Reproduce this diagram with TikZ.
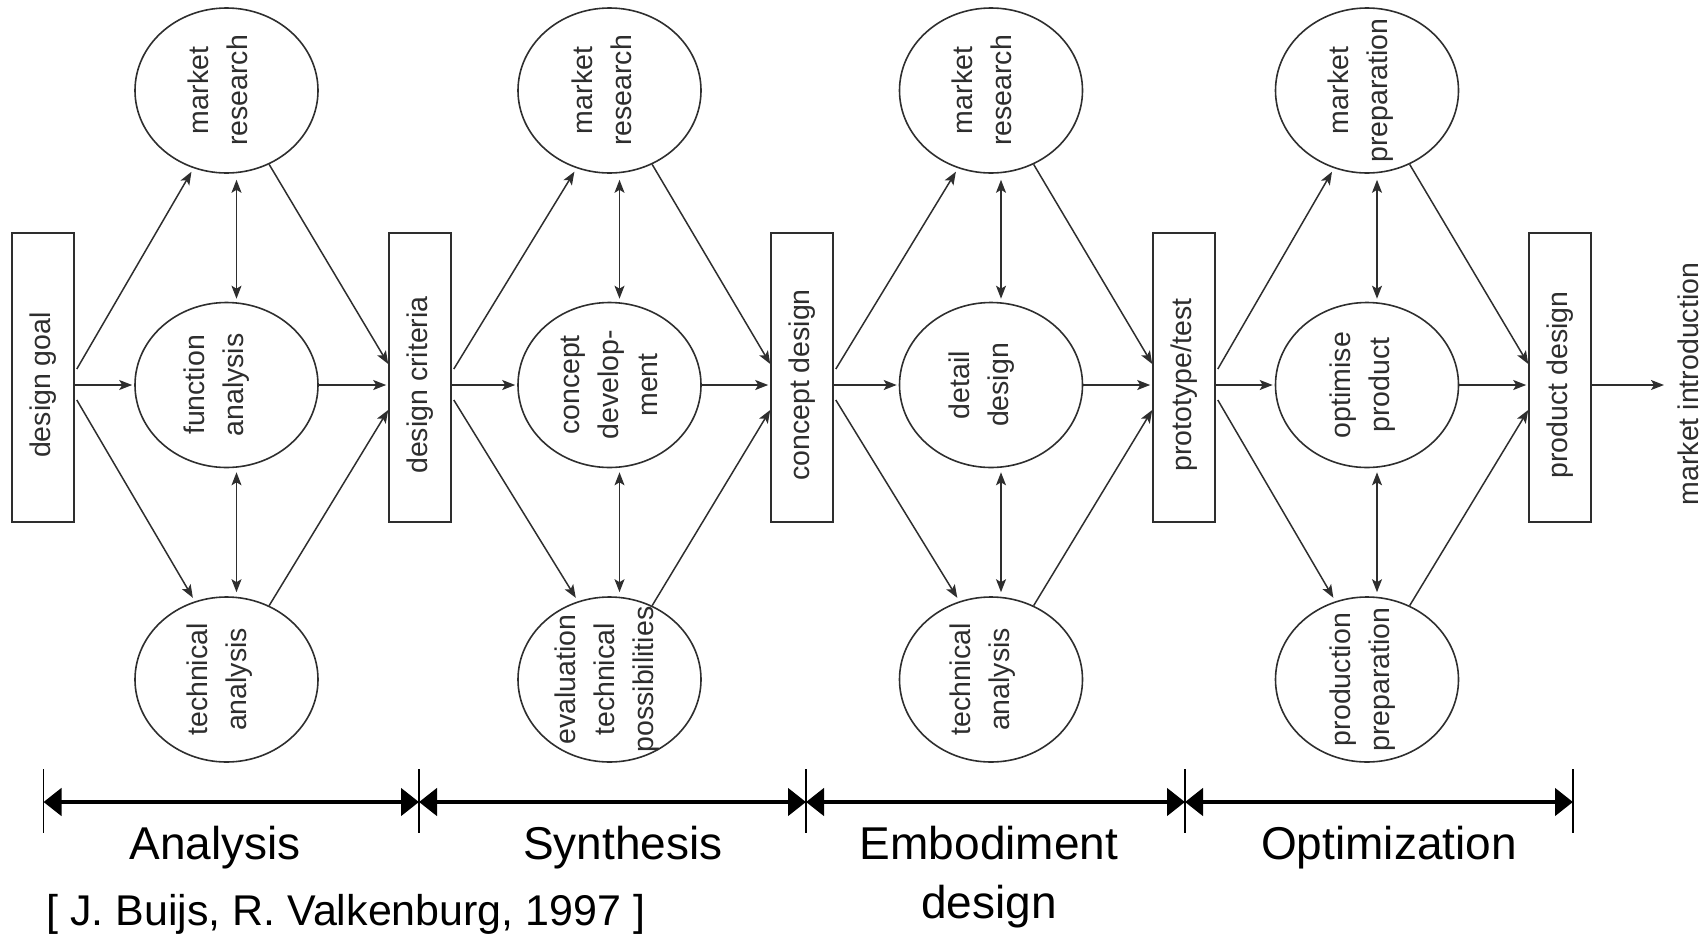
\documentclass[tikz,border=0pt]{standalone}
\usepackage{fontspec}
\setmainfont{Liberation Sans}
\usetikzlibrary{shapes.geometric,arrows.meta,calc}
\definecolor{ink}{HTML}{2E2E2E}
\begin{document}
\begin{tikzpicture}[x=1pt,y=-1pt,
  ell/.style={draw=ink,ellipse,line width=1.6pt,minimum width=183pt,minimum height=165pt,inner sep=0pt},
  stage/.style={draw=ink,rectangle,line width=1.6pt,minimum width=62pt,minimum height=289pt,inner sep=0pt},
  rtxt/.style={rotate=90,align=center,font=\fontsize{28.5}{39}\selectfont,text=ink,inner sep=0pt},
  arr/.style={draw=ink,line width=1.5pt,-{Stealth[length=13pt,width=10pt,inset=3pt]}},
  dbl/.style={draw=ink,line width=1.5pt,{Stealth[length=13pt,width=10pt,inset=3pt]}-{Stealth[length=13pt,width=10pt,inset=3pt]}},
  tl/.style={line width=4.5pt,{Triangle[length=18pt,width=27pt]}-{Triangle[length=18pt,width=27pt]}},
  tickline/.style={line width=1.5pt},
  phase/.style={font=\fontsize{46}{56}\selectfont,anchor=base,inner sep=0pt},
  cite/.style={font=\fontsize{43}{50}\selectfont,anchor=base west,inner sep=0pt},
]
\useasboundingbox (0,0) rectangle (1706,935);

% stage boxes
\node[stage] (g1) at (43,377.5) {};
\node[stage] (g2) at (420,377.5) {};
\node[stage] (g3) at (802,377.5) {};
\node[stage] (g4) at (1184,377.5) {};
\node[stage] (g5) at (1560,377.5) {};

% ellipses
\node[ell] (m1) at (226.5,90.5) {};
\node[ell] (f1) at (226.5,385) {};
\node[ell] (t1) at (226.5,679.5) {};
\node[ell] (m2) at (609.5,90.5) {};
\node[ell] (f2) at (609.5,385) {};
\node[ell] (t2) at (609.5,679.5) {};
\node[ell] (m3) at (991,90.5) {};
\node[ell] (f3) at (991,385) {};
\node[ell] (t3) at (991,679.5) {};
\node[ell] (m4) at (1367,90.5) {};
\node[ell] (f4) at (1367,385) {};
\node[ell] (t4) at (1367,679.5) {};

% box texts
\node[rtxt] (g1t) at (g1 |- f1) {design goal};
\node[rtxt] (g2t) at (g2 |- f1) {design criteria};
\node[rtxt] (g3t) at (g3 |- f1) {concept design};
\node[rtxt] (g4t) at (g4 |- f1) {prototype/test};
\node[rtxt] (g5t) at (g5 |- f1) {product design};

% ellipse texts
\node[rtxt] (m1t) at ([xshift=-9pt]m1.center) {market\\research};
\node[rtxt] (f1t) at ([xshift=-10pt]f1.center) {function\\analysis};
\node[rtxt] (t1t) at ([xshift=-7pt]t1.center) {technical\\analysis};
\node[rtxt] (m2t) at ([xshift=-8pt]m2.center) {market\\research};
\node[rtxt] (f2t) at (f2) {concept\\develop-\\ment};
\node[rtxt] (t2t) at ([xshift=-2pt]t2.center) {evaluation\\technical\\possibilities};
\node[rtxt] (m3t) at ([xshift=-9pt]m3.center) {market\\research};
\node[rtxt] (f3t) at ([xshift=-9pt]f3.center) {detail\\design};
\node[rtxt] (t3t) at ([xshift=-8pt]t3.center) {technical\\analysis};
\node[rtxt] (m4t) at ([xshift=-6pt]m4.center) {market\\preparation};
\node[rtxt] (f4t) at ([xshift=-4pt]f4.center) {optimise\\product};
\node[rtxt] (t4t) at ([xshift=-4pt]t4.center) {production\\preparation};

% connectors
\foreach \k/\n in {1/2,2/3,3/4,4/5}{
  \draw[arr,shorten >=2pt] (g\k.east |- f\k) -- (f\k.west);
  \draw[arr,shorten >=2pt] (f\k.east) -- (g\n.west |- f\k);
  \draw[arr,shorten >=4pt] ($(g\k.east |- f\k)+(2,-16)$) -- (m\k.247);
  \draw[arr,shorten >=4pt] ($(g\k.east |- f\k)+(2,15)$) -- (t\k.112);
  \draw[arr] (m\k.300) -- ($(g\n.west |- f\k)+(0,-21)$);
  \draw[arr] (t\k.60) -- ($(g\n.west |- f\k)+(0,25)$);
  \draw[dbl,shorten <=6pt,shorten >=3pt] ([xshift=10pt]m\k.south) -- ([xshift=10pt]f\k.north);
  \draw[dbl,shorten <=4pt,shorten >=4pt] ([xshift=10pt]f\k.south) -- ([xshift=10pt]t\k.north);
}

% output
\node[rtxt] (mi) at (1688,384) {market introduction};
\coordinate (miin) at (1664,385);
\draw[arr] (g5.east |- f4) -- (miin);

% timeline
\coordinate (p0) at (43.5,802);
\coordinate (p1) at (419,802);
\coordinate (p2) at (806,802);
\coordinate (p3) at (1185,802);
\coordinate (p4) at (1573,802);
\foreach \p in {p0,p1,p2,p3,p4}{
  \draw[tickline] ($(\p)+(0,-33)$) -- ($(\p)+(0,31)$);
}
\draw[tl] (p0) -- (p1);
\draw[tl] (p1) -- (p2);
\draw[tl] (p2) -- (p3);
\draw[tl] (p3) -- (p4);

\node[phase] (la) at (215,859) {Analysis};
\node[phase] (ls) at (623,859) {Synthesis};
\node[phase] (le) at (989,859) {Embodiment};
\node[phase] (le2) at (989,918) {design};
\node[phase] (lo) at (1389,859) {Optimization};
\node[cite] (ref) at (46,925) {[ J. Buijs, R. Valkenburg, 1997 ]};
\end{tikzpicture}
\end{document}
